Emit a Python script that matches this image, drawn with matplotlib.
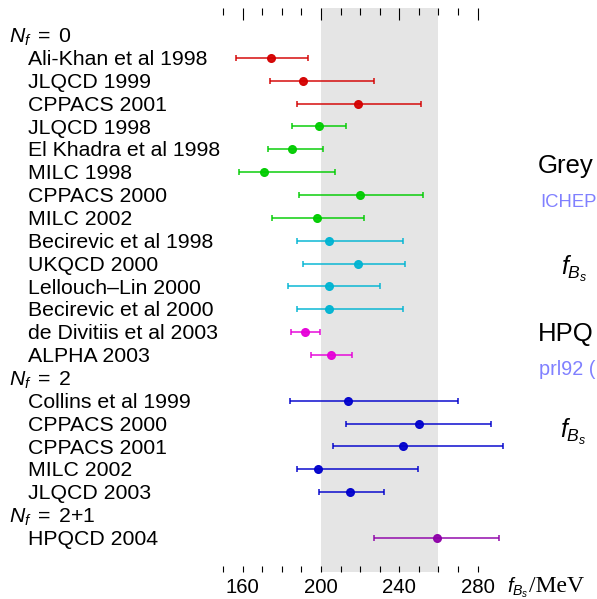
import matplotlib.pyplot as plt
import matplotlib.transforms as mtransforms

plt.rcParams['font.family'] = 'Liberation Sans'
plt.rcParams['mathtext.fontset'] = 'custom'
plt.rcParams['mathtext.rm'] = 'Liberation Sans'
plt.rcParams['mathtext.it'] = 'Liberation Sans:italic'

#==============================================
# f_Bs lattice results (MeV)

nf0_labels = ['Ali-Khan et al 1998', 'JLQCD 1999', 'CPPACS 2001', 'JLQCD 1998',
              'El Khadra et al 1998', 'MILC 1998', 'CPPACS 2000', 'MILC 2002',
              'Becirevic et al 1998', 'UKQCD 2000', 'Lellouch\u2013Lin 2000',
              'Becirevic et al 2000', 'de Divitiis et al 2003', 'ALPHA 2003']
nf0_val = [174.5, 191, 219, 199, 185, 171, 220, 198, 204, 219, 204, 204, 192, 205]
nf0_lo = [18, 17, 31, 14, 12, 13, 31, 23, 16, 28, 21, 16, 7.5, 10]
nf0_hi = [19, 36, 32, 14, 16, 36, 32, 24, 38, 24, 26, 38, 7.5, 11]
nf0_col = ['#d40000'] * 3 + ['#00cc00'] * 5 + ['#00b4d2'] * 4 + ['#e600d8'] * 2

nf2_labels = ['Collins et al 1999', 'CPPACS 2000', 'CPPACS 2001', 'MILC 2002', 'JLQCD 2003']
nf2_val = [214, 250, 242, 198.5, 215]
nf2_lo = [30, 37, 36, 11, 16]
nf2_hi = [56, 37, 51, 51, 17]
nf2_col = ['#0000cc'] * 5

nf21_labels = ['HPQCD 2004']
nf21_val = [259]
nf21_lo = [32]
nf21_hi = [32]
nf21_col = ['#8e00a8']

groups = [('$N_f\\;=\\;0$', nf0_labels, nf0_val, nf0_lo, nf0_hi, nf0_col),
          ('$N_f\\;=\\;2$', nf2_labels, nf2_val, nf2_lo, nf2_hi, nf2_col),
          ('$N_f\\;=\\;2{+}1$', nf21_labels, nf21_val, nf21_lo, nf21_hi, nf21_col)]

band = (200, 260)   # ICHEP average

#==============================================

W, H = 597, 599
fig = plt.figure(figsize=(W / 100, H / 100), dpi=100)
ax = fig.add_axes([203.5 / W, 1 - 572 / H, 313.3 / W, 564 / H])
ax.set_xlim(140, 300)

ax.axvspan(band[0], band[1], color='#e5e5e5', lw=0, zorder=0)

trans = mtransforms.blended_transform_factory(fig.transFigure, ax.transData)

row = 0
for header, labels, vals, lo, hi, cols in groups:
    ax.text(9 / W, row + 0.34, header, transform=trans, fontsize=15.3, va='baseline')
    row += 1
    for lab, v, l, h, c in zip(labels, vals, lo, hi, cols):
        ax.errorbar(v, row, xerr=[[l], [h]], fmt='o', color=c, ms=5.5,
                    ecolor=c, elinewidth=1.1, capsize=2.2, capthick=1.1, alpha=0.95)
        ax.text(28 / W, row + 0.31, lab, transform=trans, fontsize=15.3, va='baseline')
        row += 1

ax.set_ylim(23.49, -1.18)
ax.set_yticks([])
for s in ax.spines.values():
    s.set_visible(False)

ax.set_xticks([160, 200, 240, 280])
ax.set_xticks([150, 170, 180, 190, 210, 220, 230, 250, 260, 270], minor=True)
ax.tick_params(axis='x', which='both', direction='in', length=4, width=0.8,
               labelsize=14.7, pad=4)

top = ax.secondary_xaxis('top')
top.set_xticks([160, 200, 240, 280])
top.set_xticks([150, 170, 180, 190, 210, 220, 230, 250, 260, 270], minor=True)
top.tick_params(axis='x', which='major', direction='in', length=8.5, width=0.8, labeltop=False)
top.tick_params(axis='x', which='minor', direction='in', length=5, width=0.8)
top.spines['top'].set_visible(False)

# axis label, f_Bs in sans italic and /MeV in roman serif
fig.text(507 / W, 1 - 592 / H, '$f_{B_s}$', fontsize=14.5, va='baseline')
fig.text(529 / W, 1 - 592 / H, '/MeV', fontsize=17, va='baseline', family='Liberation Serif')

# notes on the right; only the part inside the picture is shown
fig.text(538 / W, 1 - 173 / H, 'Grey', fontsize=18.5, va='baseline')
fig.text(540 / W, 1 - 207 / H, 'ICHEP', fontsize=13.3, va='baseline', color='#8080ff')
fig.text(561 / W, 1 - 275 / H, '$f_{B_s}$', fontsize=18, va='baseline')
fig.text(538 / W, 1 - 341 / H, 'HPQ', fontsize=18.5, va='baseline')
fig.text(539 / W, 1 - 375 / H, 'prl92 (', fontsize=14.3, va='baseline', color='#8080ff')
fig.text(560 / W, 1 - 438 / H, '$f_{B_s}$', fontsize=18, va='baseline')

fig.savefig('out.png', dpi=100)
